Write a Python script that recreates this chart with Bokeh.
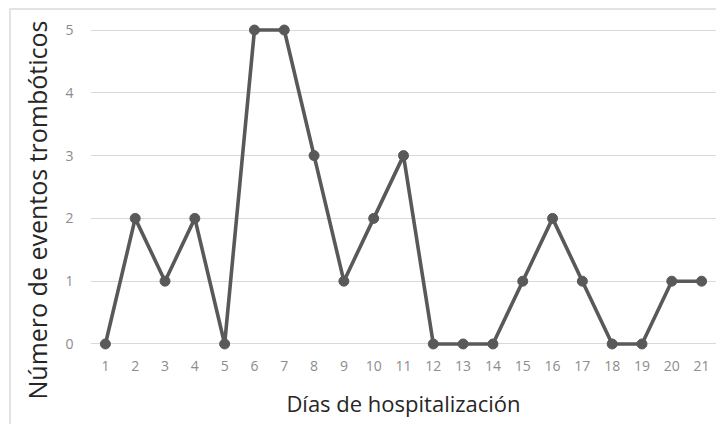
from bokeh.plotting import figure
from bokeh.models import FixedTicker, Range1d, Title
from bokeh.embed import file_html
from bokeh.resources import INLINE

dias = list(range(1, 22))
eventos = [0, 2, 1, 2, 0, 5, 5, 3, 1, 2, 3, 0, 0, 0, 1, 2, 1, 0, 0, 1, 1]
y_ticks = [0, 1, 2, 3, 4, 5]
y_title = "Número de eventos trombóticos"
x_title = "Días de hospitalización"

FONT = "Open Sans"
LINE = "#595959"

p = figure(width=716, height=424, output_backend="svg", toolbar_location=None,
           x_range=Range1d(0.5, 21.5), y_range=Range1d(-0.12, 5.12),
           min_border_left=90, min_border_right=0, min_border_top=22, min_border_bottom=73)
p.outline_line_color = None
p.background_fill_color = None
p.border_fill_color = None

p.line(dias, eventos, line_color=LINE, line_width=3.6)
p.scatter(dias, eventos, size=10, fill_color=LINE, line_color=LINE)

p.xgrid.grid_line_color = None
p.ygrid.grid_line_color = "#d9d9d9"
p.ygrid.grid_line_width = 1.2
p.ygrid.ticker = FixedTicker(ticks=y_ticks)

p.xaxis.ticker = FixedTicker(ticks=dias)
p.yaxis.ticker = FixedTicker(ticks=y_ticks)
for ax in (p.xaxis[0], p.yaxis[0]):
    ax.axis_line_color = None
    ax.major_tick_line_color = None
    ax.minor_tick_line_color = None
    ax.major_label_text_color = "#8c8c8c"
    ax.major_label_text_font = FONT
    ax.major_label_text_font_size = "14px"
    ax.axis_label_text_font = FONT
    ax.axis_label_text_font_style = "normal"
    ax.axis_label_text_color = "#262626"
    ax.axis_label_text_font_size = "22px"

p.yaxis.major_label_standoff = 11
p.xaxis.major_label_standoff = 3
p.xaxis.axis_label = x_title
p.xaxis.axis_label_standoff = 14

# y title starts below the frame bottom, as in the original
p.add_layout(Title(text=y_title, align="left", offset=-48, standoff=18,
                   text_font=FONT, text_font_size="25px", text_font_style="normal",
                   text_color="#262626"), "left")

# thin light frame lines of the original picture (top and left)
p.styles = {
    "background": ("linear-gradient(#e3e3e3,#e3e3e3) 9px 8px / 100% 2px no-repeat, "
                   "linear-gradient(#e3e3e3,#e3e3e3) 9px 8px / 2px 100% no-repeat, white"),
}

open("out.html", "w").write(file_html(p, INLINE))
